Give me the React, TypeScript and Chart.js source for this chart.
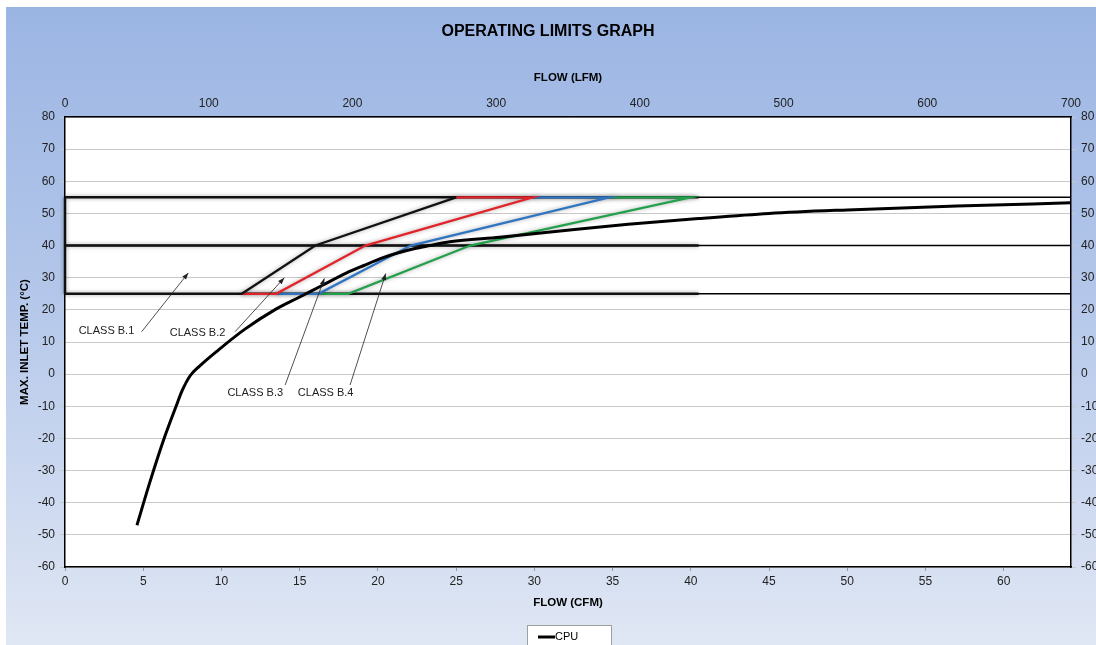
import React, { useEffect, useRef } from 'react';
import { Chart, registerables } from 'chart.js';

Chart.register(...registerables);

// ---- axis ranges / ticks ----
const cfmMax = 64.3;
const cfmStep = 5;
const lfmMax = 700;
const lfmStep = 100;
const tempMin = -60;
const tempMax = 80;
const tempStep = 10;

// ---- operating-limit lines ----
const limitTemps = [25, 40, 55];
const boxEndFlow = 40.5;

// ---- CPU curve ----
const cpuFlow = [4.6, 5.4, 6.3, 7.1, 7.5, 8.0, 8.6, 9.8, 11.5, 13.4, 15.0, 16.4, 18.0, 19.1, 20.2, 21.2, 22.3, 23.3, 24.6, 27.8, 31.8, 36.0, 40.5, 45.0, 50.0, 57.0, 64.3];
const cpuTemp = [-47, -34, -20.5, -10, -5, -0.5, 2.5, 7.5, 14, 20, 24, 27.5, 31.5, 33.8, 36, 37.6, 39, 40, 41.2, 42.6, 44.6, 46.6, 48.4, 50, 51.1, 52.3, 53.3];

// ---- class boundaries ----
const classB1Flow = [11.3, 16.0, 25.0];
const classB1Temp = [25, 40, 55];
const classB2Flow = [25.0, 29.9, 19.2, 13.5, 11.3];
const classB2Temp = [55, 55, 40, 25, 25];
const classB3Flow = [29.9, 34.8, 22.1, 16.2, 13.5];
const classB3Temp = [55, 55, 40, 25, 25];
const classB4Flow = [34.8, 40.0, 25.9, 18.1, 16.2];
const classB4Temp = [55, 55, 40, 25, 25];

// ---- annotations ----
const noteLabels = ['CLASS B.1', 'CLASS B.2', 'CLASS B.3', 'CLASS B.4'];
const noteFlow = [2.65, 8.47, 12.16, 16.66];
const noteTemp = [13.4, 12.85, -6.0, -6.0];
const arrowFromFlow = [4.9, 10.87, 14.07, 18.22];
const arrowFromTemp = [13.2, 13.2, -3.4, -3.4];
const arrowToFlow = [7.88, 14.02, 16.58, 20.5];
const arrowToTemp = [31.5, 30.0, 29.8, 31.3];

const FONT = '"Liberation Sans", Arial, sans-serif';

const zip = (xs: number[], ys: number[]) => xs.map((x, i) => ({ x, y: ys[i] }));

export default function App() {
  const ref = useRef<HTMLCanvasElement | null>(null);

  useEffect(() => {
    document.body.style.margin = '0';
    document.body.style.overflow = 'hidden';
    const canvas = ref.current!;

    const datasets: any[] = [];
    // thin full-width limit lines
    limitTemps.forEach((t) => {
      datasets.push({
        label: 'limit' + t,
        data: zip([0, cfmMax], [t, t]),
        borderColor: '#000',
        borderWidth: 1.5,
        order: 5,
      });
    });
    // thick box part
    limitTemps.forEach((t) => {
      datasets.push({
        label: 'box' + t,
        data: zip([0, boxEndFlow], [t, t]),
        borderColor: '#111',
        borderWidth: 2.5,
        order: 4,
        shadow: true,
      });
    });
    datasets.push({
      label: 'boxLeft',
      data: zip([0, 0], [limitTemps[0], limitTemps[2]]),
      borderColor: '#111',
      borderWidth: 2.5,
      order: 4,
      shadow: true,
    });
    datasets.push({ label: 'B1', data: zip(classB1Flow, classB1Temp), borderColor: '#111', borderWidth: 2.2, order: 2, shadow: true });
    datasets.push({ label: 'B2', data: zip(classB2Flow, classB2Temp), borderColor: '#e2232a', borderWidth: 2.2, order: 3, shadow: true });
    datasets.push({ label: 'B3', data: zip(classB3Flow, classB3Temp), borderColor: '#2f74c0', borderWidth: 2.2, order: 3, shadow: true });
    datasets.push({ label: 'B4', data: zip(classB4Flow, classB4Temp), borderColor: '#22a04b', borderWidth: 2.2, order: 3, shadow: true });
    datasets.push({
      label: 'CPU',
      data: zip(cpuFlow, cpuTemp),
      borderColor: '#000',
      borderWidth: 3,
      cubicInterpolationMode: 'monotone',
      order: 0,
    });
    datasets.forEach((d) => {
      d.type = 'line';
      d.pointRadius = 0;
      d.fill = false;
      d.clip = false;
      d.xAxisID = 'x';
      d.yAxisID = 'y';
      d.borderCapStyle = 'butt';
    });

    const decor = {
      id: 'decor',
      beforeDraw(chart: any) {
        const { ctx, chartArea } = chart;
        ctx.save();
        ctx.fillStyle = '#fff';
        ctx.fillRect(chartArea.left, chartArea.top, chartArea.right - chartArea.left, chartArea.bottom - chartArea.top);
        ctx.restore();
      },
      beforeDatasetDraw(chart: any, args: any) {
        const ds = chart.data.datasets[args.index];
        if (ds.shadow) {
          chart.ctx.save();
          chart.ctx.shadowColor = 'rgba(0,0,0,0.35)';
          chart.ctx.shadowBlur = 4;
        }
      },
      afterDatasetDraw(chart: any, args: any) {
        const ds = chart.data.datasets[args.index];
        if (ds.shadow) chart.ctx.restore();
      },
      afterDraw(chart: any) {
        const { ctx, chartArea, scales } = chart;
        const sx = scales.x;
        const sy = scales.y;
        const cx = (chartArea.left + chartArea.right) / 2;
        const cy = (chartArea.top + chartArea.bottom) / 2;
        ctx.save();
        ctx.fillStyle = '#000';
        ctx.textAlign = 'center';
        ctx.textBaseline = 'middle';
        ctx.font = `bold 16px ${FONT}`;
        ctx.fillText('OPERATING LIMITS GRAPH', 542, 25);
        ctx.font = `bold 11.5px ${FONT}`;
        ctx.fillText('FLOW (LFM)', cx, 71);
        ctx.fillText('FLOW (CFM)', cx, 596);
        ctx.save();
        ctx.translate(19, cy);
        ctx.rotate(-Math.PI / 2);
        ctx.fillText('MAX. INLET TEMP. (°C)', 0, 0);
        ctx.restore();

        // annotations
        ctx.font = `11px ${FONT}`;
        ctx.fillStyle = '#222';
        noteLabels.forEach((t, i) => {
          ctx.fillText(t, sx.getPixelForValue(noteFlow[i]), sy.getPixelForValue(noteTemp[i]));
          const x1 = sx.getPixelForValue(arrowFromFlow[i]);
          const y1 = sy.getPixelForValue(arrowFromTemp[i]);
          const x2 = sx.getPixelForValue(arrowToFlow[i]);
          const y2 = sy.getPixelForValue(arrowToTemp[i]);
          ctx.strokeStyle = '#222';
          ctx.lineWidth = 0.8;
          ctx.beginPath();
          ctx.moveTo(x1, y1);
          ctx.lineTo(x2, y2);
          ctx.stroke();
          const a = Math.atan2(y2 - y1, x2 - x1);
          const L = 7;
          const W = 0.35;
          ctx.beginPath();
          ctx.moveTo(x2, y2);
          ctx.lineTo(x2 - L * Math.cos(a - W), y2 - L * Math.sin(a - W));
          ctx.lineTo(x2 - L * Math.cos(a + W), y2 - L * Math.sin(a + W));
          ctx.closePath();
          ctx.fill();
        });

        // legend
        const lw = 84;
        const lh = 26;
        const lx = 521;
        const ly = 618;
        ctx.fillStyle = '#fff';
        ctx.fillRect(lx, ly, lw, lh);
        ctx.strokeStyle = '#a0a0a0';
        ctx.lineWidth = 1;
        ctx.strokeRect(lx + 0.5, ly + 0.5, lw, lh);
        ctx.strokeStyle = '#000';
        ctx.lineWidth = 3;
        ctx.beginPath();
        ctx.moveTo(lx + 11, ly + 12);
        ctx.lineTo(lx + 28, ly + 12);
        ctx.stroke();
        ctx.fillStyle = '#000';
        ctx.textAlign = 'left';
        ctx.font = `11px ${FONT}`;
        ctx.fillText('CPU', lx + 28, ly + 12);
        ctx.restore();
      },
    };

    const tickFont = { family: FONT, size: 12 };
    const chart = new Chart(canvas, {
      type: 'line',
      data: { datasets },
      options: {
        animation: false,
        responsive: false,
        devicePixelRatio: 1,
        layout: { padding: { top: 80, bottom: 48, left: 0, right: 0 } },
        plugins: { legend: { display: false }, tooltip: { enabled: false }, title: { display: false } },
        scales: {
          x: {
            type: 'linear',
            position: 'bottom',
            min: 0,
            max: cfmMax,
            ticks: { stepSize: cfmStep, includeBounds: false, color: '#222', font: tickFont, padding: 3, maxRotation: 0 },
            grid: { drawOnChartArea: false, color: '#999', tickLength: 4 },
            border: { color: '#000', width: 1.5 },
            afterFit: (s: any) => { s.height = 30; },
          },
          x2: {
            type: 'linear',
            position: 'top',
            min: 0,
            max: lfmMax,
            ticks: { stepSize: lfmStep, includeBounds: false, color: '#222', font: tickFont, padding: 6, maxRotation: 0 },
            grid: { drawOnChartArea: false, drawTicks: false, color: '#999' },
            border: { color: '#000', width: 1.5 },
            afterFit: (s: any) => { s.height = 30; },
          },
          y: {
            type: 'linear',
            position: 'left',
            min: tempMin,
            max: tempMax,
            ticks: { stepSize: tempStep, color: '#222', font: tickFont, padding: 5 },
            grid: { color: '#c8c8c8', tickLength: 5 },
            border: { color: '#000', width: 1.5 },
            afterFit: (s: any) => { s.width = 59; },
          },
          y2: {
            type: 'linear',
            position: 'right',
            min: tempMin,
            max: tempMax,
            ticks: { stepSize: tempStep, color: '#222', font: tickFont, padding: 5 },
            grid: { drawOnChartArea: false, color: '#c8c8c8', tickLength: 5 },
            border: { color: '#000', width: 1.5 },
            afterFit: (s: any) => { s.width = 25; },
          },
        },
      } as any,
      plugins: [decor],
    });
    return () => chart.destroy();
  }, []);

  return (
    <div
      style={{
        position: 'absolute',
        left: 6,
        top: 7,
        width: 1090,
        height: 638,
        background: 'linear-gradient(to bottom, #9bb5e3 0%, #b4c7ea 45%, #e0e7f4 100%)',
      }}
    >
      <canvas ref={ref} width={1090} height={638} style={{ display: 'block' }} />
    </div>
  );
}
